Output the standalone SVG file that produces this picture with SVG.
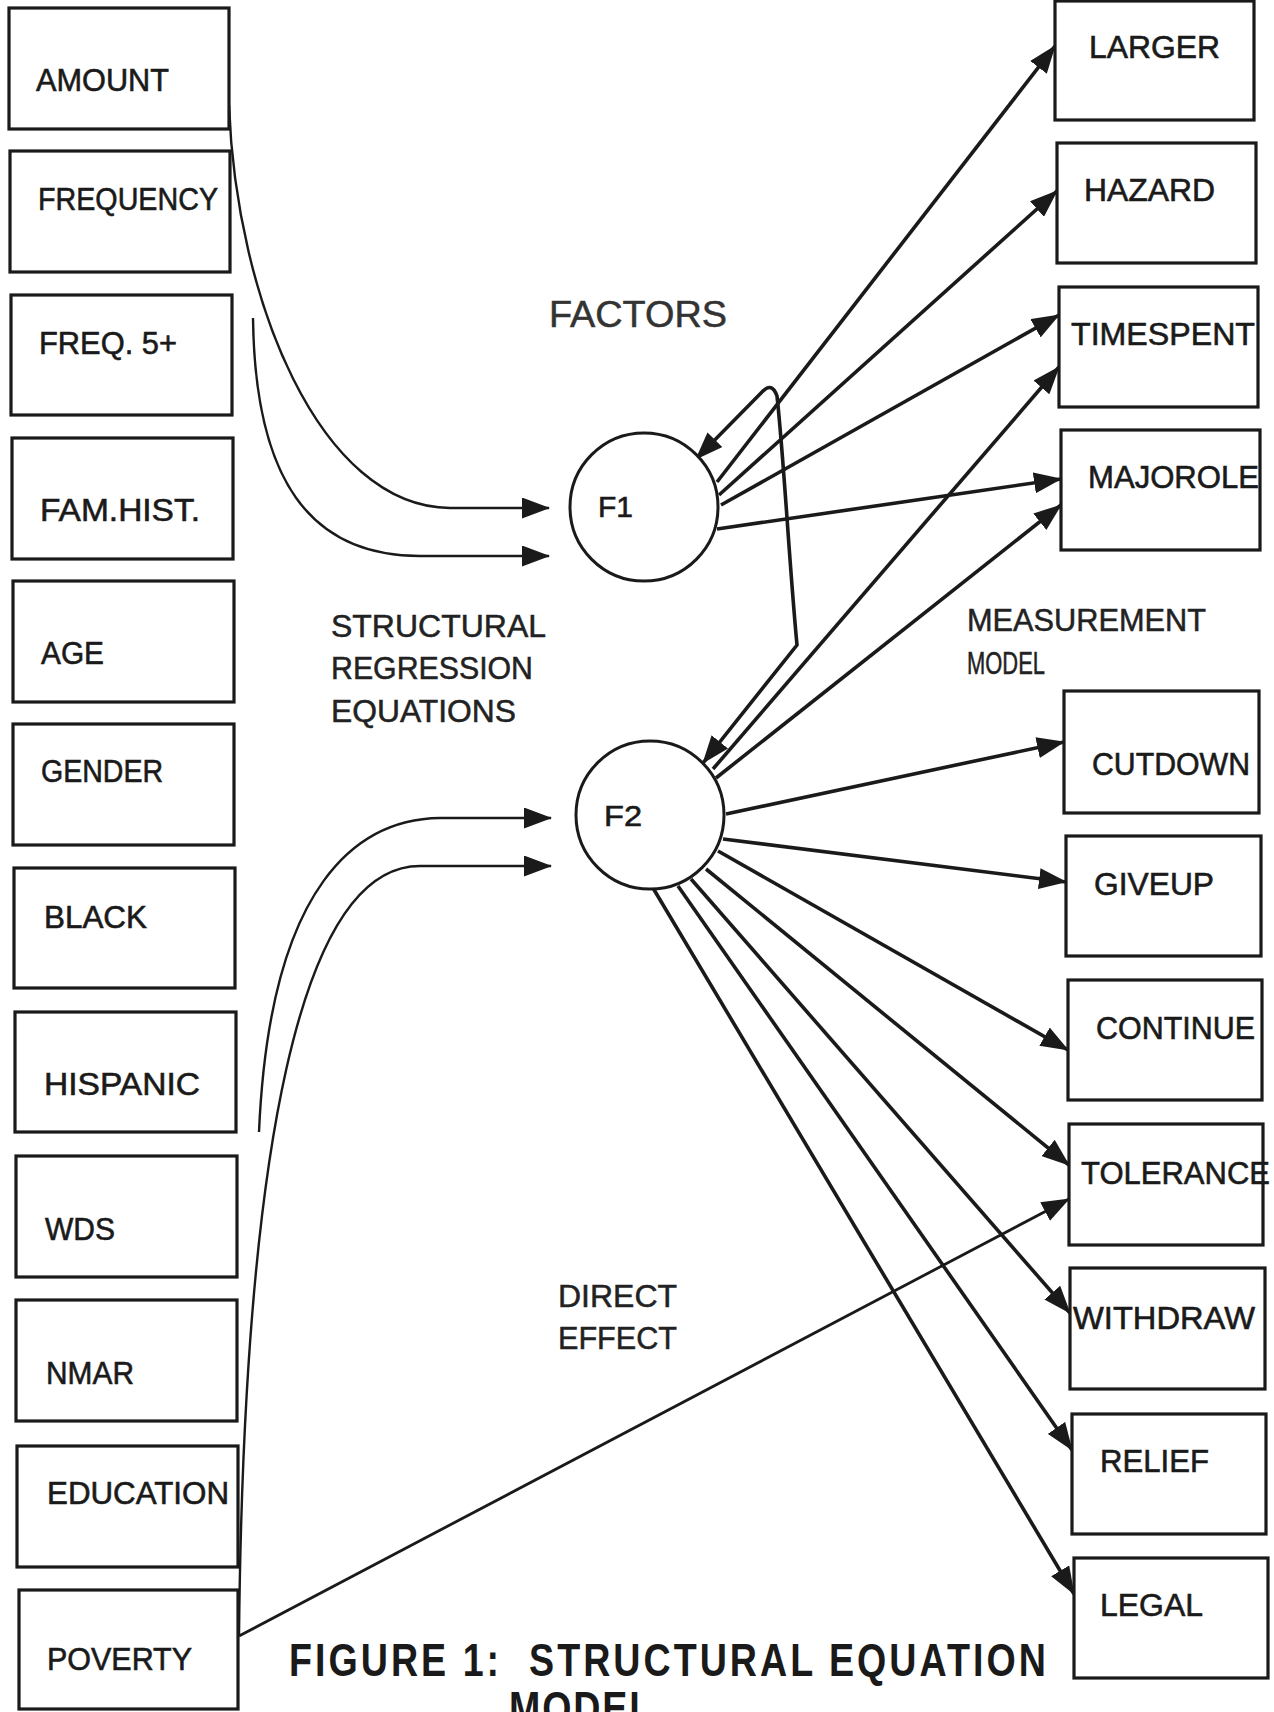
<svg xmlns="http://www.w3.org/2000/svg" width="1274" height="1712" viewBox="0 0 1274 1712">
<defs>
<style>
.box{fill:#fff;stroke:#1a1a1a;stroke-width:3.2}
.circ{fill:#fff;stroke:#1a1a1a;stroke-width:3}
.t{font-family:"Liberation Sans",Arial,sans-serif;font-size:32px;fill:#1a1a1a;stroke:#1a1a1a;stroke-width:0.6}
.lbl{font-family:"Liberation Sans",Arial,sans-serif;font-size:31px;fill:#222;stroke:#222;stroke-width:0.5}
.ttl{font-family:"Liberation Sans",Arial,sans-serif;font-size:47px;font-weight:bold;fill:#1a1a1a}
.thin{fill:none;stroke:#1a1a1a;stroke-width:2.4;marker-end:url(#ah)}
.arr{fill:none;stroke:#1a1a1a;stroke-width:3.6;marker-end:url(#ah)}
.corr{fill:none;stroke:#1a1a1a;stroke-width:3.6;marker-start:url(#ahs);marker-end:url(#ah)}
</style>
<marker id="ah" viewBox="0 0 28 21" markerWidth="28" markerHeight="21" refX="27" refY="10.5" orient="auto" markerUnits="userSpaceOnUse"><path d="M0,0 L28,10.5 L0,21 z" fill="#1a1a1a"/></marker>
<marker id="ahs" viewBox="0 0 28 21" markerWidth="28" markerHeight="21" refX="27" refY="10.5" orient="auto-start-reverse" markerUnits="userSpaceOnUse"><path d="M0,0 L28,10.5 L0,21 z" fill="#1a1a1a"/></marker>
</defs>
<rect x="0" y="0" width="1274" height="1712" fill="#fff"/>

<g id="connectors">
<path class="thin" d="M229 105 C236 300, 320 507, 450 508 L549 508"/>
<path class="thin" d="M253 318 C255 480, 310 556, 420 556 L549 556"/>
<path class="thin" d="M259 1132 C270 880, 360 819, 440 818 L551 818"/>
<path class="thin" d="M239 1636 C244 1150, 300 866, 420 866 L551 866"/>
<path class="arr" style="stroke-width:2.8" d="M239 1636 L1069 1199"/>
<path class="arr" d="M717 482 L1055 46"/>
<path class="arr" d="M719 495 L1057 191"/>
<path class="arr" d="M721 505 L1059 315"/>
<path class="arr" d="M717 529 L1061 479"/>
<path class="corr" d="M696 459 L763 391 Q772 382 777 396 C784 460, 789 560, 797 645 L703 763"/>
<path class="arr" d="M713 769 L1059 367"/>
<path class="arr" d="M716 778 L1061 505"/>
<path class="arr" d="M726 814 L1064 742"/>
<path class="arr" d="M723 839 L1066 882"/>
<path class="arr" d="M718 851 L1068 1050"/>
<path class="arr" d="M706 869 L1069 1165"/>
<path class="arr" d="M691 879 L1070 1313"/>
<path class="arr" d="M678 886 L1072 1450"/>
<path class="arr" d="M653 888 L1074 1594"/>
</g>

<g id="n-amount"><rect class="box" x="9" y="8" width="220" height="121"/><text class="t" x="36" y="91" textLength="133" lengthAdjust="spacingAndGlyphs">AMOUNT</text></g>
<g id="n-frequency"><rect class="box" x="10" y="151" width="220" height="121"/><text class="t" x="38" y="210" textLength="180" lengthAdjust="spacingAndGlyphs">FREQUENCY</text></g>
<g id="n-freq5"><rect class="box" x="11" y="295" width="221" height="120"/><text class="t" x="39" y="354" textLength="138" lengthAdjust="spacingAndGlyphs">FREQ. 5+</text></g>
<g id="n-famhist"><rect class="box" x="12" y="438" width="221" height="121"/><text class="t" x="40" y="521" textLength="160" lengthAdjust="spacingAndGlyphs">FAM.HIST.</text></g>
<g id="n-age"><rect class="box" x="13" y="581" width="221" height="121"/><text class="t" x="41" y="664" textLength="63" lengthAdjust="spacingAndGlyphs">AGE</text></g>
<g id="n-gender"><rect class="box" x="13" y="724" width="221" height="121"/><text class="t" x="41" y="782" textLength="122" lengthAdjust="spacingAndGlyphs">GENDER</text></g>
<g id="n-black"><rect class="box" x="14" y="868" width="221" height="120"/><text class="t" x="44" y="928" textLength="103" lengthAdjust="spacingAndGlyphs">BLACK</text></g>
<g id="n-hispanic"><rect class="box" x="15" y="1012" width="221" height="120"/><text class="t" x="44" y="1095" textLength="156" lengthAdjust="spacingAndGlyphs">HISPANIC</text></g>
<g id="n-wds"><rect class="box" x="16" y="1156" width="221" height="121"/><text class="t" x="45" y="1240" textLength="70" lengthAdjust="spacingAndGlyphs">WDS</text></g>
<g id="n-nmar"><rect class="box" x="16" y="1300" width="221" height="121"/><text class="t" x="46" y="1384" textLength="88" lengthAdjust="spacingAndGlyphs">NMAR</text></g>
<g id="n-education"><rect class="box" x="17" y="1446" width="221" height="121"/><text class="t" x="47" y="1504" textLength="182" lengthAdjust="spacingAndGlyphs">EDUCATION</text></g>
<g id="n-poverty"><rect class="box" x="19" y="1590" width="219" height="119"/><text class="t" x="47" y="1670" textLength="145" lengthAdjust="spacingAndGlyphs">POVERTY</text></g>

<g id="n-f1"><circle class="circ" cx="644" cy="507" r="74"/><text class="t" style="font-size:29px" x="598" y="517" textLength="35" lengthAdjust="spacingAndGlyphs">F1</text></g>
<g id="n-f2"><circle class="circ" cx="650" cy="815" r="74"/><text class="t" style="font-size:29px" x="604" y="826" textLength="38" lengthAdjust="spacingAndGlyphs">F2</text></g>

<g id="n-larger"><rect class="box" x="1055" y="1" width="199" height="119"/><text class="t" x="1089" y="58" textLength="131" lengthAdjust="spacingAndGlyphs">LARGER</text></g>
<g id="n-hazard"><rect class="box" x="1057" y="143" width="199" height="120"/><text class="t" x="1084" y="201" textLength="131" lengthAdjust="spacingAndGlyphs">HAZARD</text></g>
<g id="n-timespent"><rect class="box" x="1059" y="287" width="199" height="120"/><text class="t" x="1071" y="345" textLength="184" lengthAdjust="spacingAndGlyphs">TIMESPENT</text></g>
<g id="n-majorole"><rect class="box" x="1061" y="430" width="199" height="120"/><text class="t" x="1088" y="488" textLength="171" lengthAdjust="spacingAndGlyphs">MAJOROLE</text></g>
<g id="n-cutdown"><rect class="box" x="1064" y="691" width="195" height="122"/><text class="t" x="1092" y="775" textLength="158" lengthAdjust="spacingAndGlyphs">CUTDOWN</text></g>
<g id="n-giveup"><rect class="box" x="1066" y="836" width="195" height="120"/><text class="t" x="1094" y="895" textLength="120" lengthAdjust="spacingAndGlyphs">GIVEUP</text></g>
<g id="n-continue"><rect class="box" x="1068" y="980" width="194" height="120"/><text class="t" x="1096" y="1039" textLength="159" lengthAdjust="spacingAndGlyphs">CONTINUE</text></g>
<g id="n-tolerance"><rect class="box" x="1069" y="1124" width="194" height="121"/><text class="t" x="1081" y="1184" textLength="189" lengthAdjust="spacingAndGlyphs">TOLERANCE</text></g>
<g id="n-withdraw"><rect class="box" x="1070" y="1268" width="195" height="121"/><text class="t" x="1073" y="1329" textLength="182" lengthAdjust="spacingAndGlyphs">WITHDRAW</text></g>
<g id="n-relief"><rect class="box" x="1072" y="1414" width="194" height="120"/><text class="t" x="1100" y="1472" textLength="109" lengthAdjust="spacingAndGlyphs">RELIEF</text></g>
<g id="n-legal"><rect class="box" x="1074" y="1558" width="194" height="120"/><text class="t" x="1100" y="1616" textLength="103" lengthAdjust="spacingAndGlyphs">LEGAL</text></g>

<g id="labels">
<text class="lbl" style="font-size:37px;fill:#333;stroke:#333" x="549" y="327" textLength="178" lengthAdjust="spacingAndGlyphs">FACTORS</text>
<text class="lbl" x="331" y="637" textLength="215" lengthAdjust="spacingAndGlyphs">STRUCTURAL</text>
<text class="lbl" x="331" y="679" textLength="202" lengthAdjust="spacingAndGlyphs">REGRESSION</text>
<text class="lbl" x="331" y="722" textLength="185" lengthAdjust="spacingAndGlyphs">EQUATIONS</text>
<text class="lbl" x="967" y="631" textLength="239" lengthAdjust="spacingAndGlyphs">MEASUREMENT</text>
<text class="lbl" x="967" y="674" textLength="78" lengthAdjust="spacingAndGlyphs">MODEL</text>
<text class="lbl" x="558" y="1307" textLength="119" lengthAdjust="spacingAndGlyphs">DIRECT</text>
<text class="lbl" x="558" y="1349" textLength="119" lengthAdjust="spacingAndGlyphs">EFFECT</text>
<text class="ttl" xml:space="preserve" transform="translate(289 1676) scale(0.8 1)" x="0" y="0" textLength="946" lengthAdjust="spacing">FIGURE 1:  STRUCTURAL EQUATION</text>
<text class="ttl" transform="translate(509 1724) scale(0.8 1)" x="0" y="0" textLength="179" lengthAdjust="spacing">MODEL</text>
</g>
</svg>
